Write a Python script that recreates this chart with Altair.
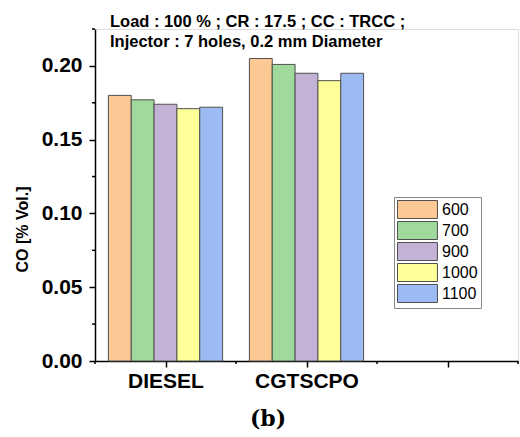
import altair as alt
import pandas as pd

# CO emissions (% Vol.) per fuel and engine speed
fuels = ["DIESEL", "CGTSCPO"]
speeds = ["600", "700", "900", "1000", "1100"]
diesel_co = [0.180, 0.177, 0.174, 0.171, 0.172]
cgtscpo_co = [0.205, 0.201, 0.195, 0.190, 0.195]
speed_colors = ["#FCC994", "#A0D99C", "#C3B1D6", "#FFFF9A", "#9DBBF2"]

title_lines = ["Load : 100 % ; CR : 17.5 ; CC : TRCC ;",
               "Injector : 7 holes, 0.2 mm Diameter"]
y_major = [0.0, 0.05, 0.10, 0.15, 0.20]
y_minor = [0.025, 0.075, 0.125, 0.175, 0.225]
x_major = [1, 2, 3]
x_minor = [0.5, 1.5, 2.5, 3.5]
caption = "(b)"

rows = []
for gi, (fuel, vals) in enumerate(zip(fuels, [diesel_co, cgtscpo_co])):
    for si, (sp, v) in enumerate(zip(speeds, vals)):
        rows.append({"fuel": fuel, "g": gi + 1, "s": si, "speed": sp, "co": v})
df = pd.DataFrame(rows)

W, H = 423, 332
BAR_W = 0.162
SANS = "Liberation Sans"

x_scale = alt.Scale(domain=[0.5, 3.5], nice=False, zero=False)
y_scale = alt.Scale(domain=[0, 0.225], nice=False)

label_expr = "datum.value == 1 ? 'DIESEL' : datum.value == 2 ? 'CGTSCPO' : ''"

# wide swatch drawn right of the symbol anchor so rows stay compact
swatch = "M-1,-1L3.44,-1L3.44,1L-1,1Z"

bars = alt.Chart(df).transform_calculate(
    x0=f"datum.g + (datum.s - 2) * {BAR_W} - {BAR_W / 2}",
    x1=f"datum.g + (datum.s - 2) * {BAR_W} + {BAR_W / 2}",
).mark_bar(stroke="#505050", strokeWidth=1).encode(
    x=alt.X("x0:Q", scale=x_scale,
            axis=alt.Axis(values=x_major, labelExpr=label_expr, title=None,
                          grid=False, tickSize=6, tickWidth=1.5, tickColor="black",
                          domainColor="black", domainWidth=1.5,
                          labelFont=SANS, labelFontWeight="bold", labelFontSize=21,
                          labelColor="black", labelPadding=3)),
    x2="x1:Q",
    y=alt.Y("co:Q", scale=y_scale,
            axis=alt.Axis(values=y_major, format=".2f", grid=False,
                          title="CO [% Vol.]", titleFont=SANS, titleFontSize=16,
                          titleFontWeight="bold", titleColor="black",
                          titleX=-73, titleY=200, titleAngle=270,
                          titleAlign="center", titleBaseline="middle",
                          tickSize=6, tickWidth=1.5, tickColor="black",
                          domainColor="black", domainWidth=1.5,
                          labelFont=SANS, labelFontWeight="bold", labelFontSize=21,
                          labelColor="black", labelPadding=7)),
    y2=alt.datum(0),
    fill=alt.Fill("speed:N", scale=alt.Scale(domain=speeds, range=speed_colors),
                  legend=alt.Legend(title=None, orient="none", legendX=299, legendY=168,
                                    symbolType=swatch,
                                    symbolSize=324, symbolStrokeColor="#505050",
                                    symbolStrokeWidth=1, symbolOpacity=1,
                                    labelFont=SANS, labelFontSize=16, labelColor="black",
                                    labelOffset=26, rowPadding=-2.3, padding=3,
                                    strokeColor="#888888")),
)

y_minor_ticks = alt.Chart(pd.DataFrame({"v": y_minor})).mark_rule(
    color="black", strokeWidth=1.5).encode(
    y=alt.Y("v:Q", scale=y_scale), x=alt.value(-3), x2=alt.value(0))

x_minor_ticks = alt.Chart(pd.DataFrame({"v": x_minor})).mark_rule(
    color="black", strokeWidth=1.5).encode(
    x=alt.X("v:Q", scale=x_scale), y=alt.value(H), y2=alt.value(H + 3))

title_df = pd.DataFrame({"t": title_lines, "yy": [-2.3, 17.7]})
titles = alt.Chart(title_df).mark_text(
    align="left", baseline="alphabetic", font=SANS, fontSize=16.5,
    fontWeight="bold", color="black").encode(
    x=alt.value(15), y=alt.Y("yy:Q", scale=None), text="t:N")

cap = alt.Chart(pd.DataFrame({"t": [caption]})).mark_text(
    align="center", baseline="middle", font="DejaVu Serif", fontSize=22,
    fontWeight="bold", color="black").encode(
    x=alt.value(173), y=alt.value(390), text="t:N")

chart = alt.layer(bars, y_minor_ticks, x_minor_ticks, titles, cap).properties(
    width=W, height=H,
    autosize=alt.AutoSizeParams(type="none"),
    padding={"left": 95, "top": 29, "right": 2, "bottom": 76},
).configure_view(stroke=None).configure(background="white")

chart.save("out.html", embed_options={"renderer": "svg", "actions": False})
